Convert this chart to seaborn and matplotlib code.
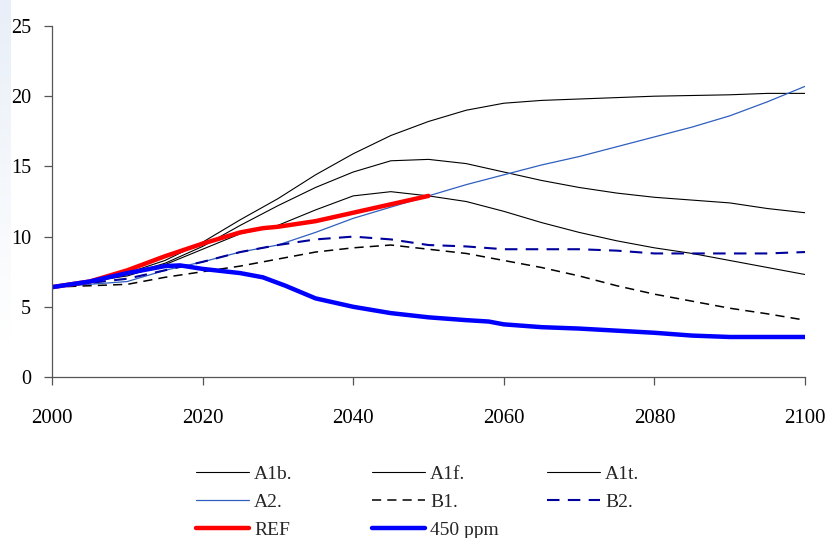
import numpy as np
import pandas as pd
import matplotlib
matplotlib.use("Agg")
import matplotlib.pyplot as plt
import seaborn as sns

years = [2000, 2005, 2010, 2015, 2020, 2025, 2030, 2035, 2040, 2045, 2050,
         2055, 2060, 2065, 2070, 2075, 2080, 2085, 2090, 2095, 2100]

a1b = [6.4, 6.8, 7.3, 8.1, 9.3, 10.8, 12.2, 13.5, 14.6, 15.4, 15.5,
       15.2, 14.6, 14.0, 13.5, 13.1, 12.8, 12.6, 12.4, 12.0, 11.7]
a1f = [6.4, 6.8, 7.4, 8.3, 9.6, 11.2, 12.7, 14.4, 15.9, 17.2, 18.2,
       19.0, 19.5, 19.7, 19.8, 19.9, 20.0, 20.05, 20.1, 20.2, 20.2]
a1t = [6.4, 6.8, 7.2, 8.0, 9.1, 10.2, 10.8, 11.9, 12.9, 13.2, 12.9,
       12.5, 11.8, 11.0, 10.3, 9.7, 9.2, 8.8, 8.3, 7.8, 7.3]
a2 = [6.4, 6.6, 6.8, 7.6, 8.2, 8.9, 9.4, 10.3, 11.3, 12.1, 12.9,
      13.7, 14.4, 15.1, 15.7, 16.4, 17.1, 17.8, 18.6, 19.6, 20.7]
b1 = [6.4, 6.5, 6.6, 7.1, 7.5, 7.9, 8.4, 8.9, 9.2, 9.4, 9.1,
      8.8, 8.3, 7.8, 7.2, 6.5, 5.9, 5.4, 4.9, 4.5, 4.05]
b2 = [6.4, 6.7, 7.0, 7.6, 8.2, 8.9, 9.4, 9.8, 10.0, 9.8, 9.4,
      9.3, 9.1, 9.1, 9.1, 9.0, 8.8, 8.8, 8.8, 8.8, 8.9]
ref_years = [2000, 2005, 2010, 2015, 2020, 2025, 2028, 2030, 2035, 2040, 2045, 2050]
ref = [6.4, 6.8, 7.6, 8.6, 9.5, 10.3, 10.6, 10.7, 11.1, 11.7, 12.3, 12.9]
ppm_years = [2000, 2005, 2010, 2015, 2017, 2020, 2025, 2028, 2031, 2035, 2040, 2045, 2050,
             2055, 2058, 2060, 2065, 2070, 2075, 2080, 2085, 2090, 2095, 2100]
ppm450 = [6.4, 6.8, 7.4, 7.9, 7.95, 7.7, 7.4, 7.1, 6.5, 5.6, 5.0, 4.55, 4.25,
          4.05, 3.95, 3.75, 3.55, 3.45, 3.3, 3.15, 2.95, 2.85, 2.85, 2.85]

x_ticks = [2000, 2020, 2040, 2060, 2080, 2100]
y_ticks = [0, 5, 10, 15, 20, 25]

sns.set_theme(style="white")
plt.rcParams['font.family'] = ['Liberation Serif', 'DejaVu Serif']

fig = plt.figure(figsize=(8.27, 5.38), dpi=100)

# faint blue strip at the left edge
gax = fig.add_axes([0, 0.36, 0.013, 0.64])
grad = np.linspace(0, 1, 100).reshape(-1, 1)
gax.imshow(grad, aspect="auto", cmap=matplotlib.colors.LinearSegmentedColormap.from_list(
    "g", ["#e8eff8", "#ffffff"]), origin="upper")
gax.axis("off")

ax = fig.add_axes([52 / 827, (538 - 377) / 538, 753 / 827, 351 / 538])

series = [
    ("A1b.", years, a1b, dict(color="black", lw=0.8, ls="-")),
    ("A1f.", years, a1f, dict(color="black", lw=0.8, ls="-")),
    ("A1t.", years, a1t, dict(color="black", lw=0.8, ls="-")),
    ("A2.", years, a2, dict(color="#2f5fbf", lw=0.9, ls="-")),
    ("B1.", years, b1, dict(color="black", lw=1.1, ls=(0, (6, 4)))),
    ("B2.", years, b2, dict(color="#00009c", lw=1.5, ls=(0, (6, 4)))),
    ("REF", ref_years, ref, dict(color="#ff0000", lw=3.2, ls="-")),
    ("450 ppm", ppm_years, ppm450, dict(color="#0000ff", lw=3.2, ls="-")),
]
for name, xs, ys, st in series:
    df = pd.DataFrame({"year": xs, "value": ys})
    sns.lineplot(data=df, x="year", y="value", ax=ax, label=name,
                 color=st["color"], linewidth=st["lw"], linestyle=st["ls"])

handles, labels = ax.get_legend_handles_labels()
if ax.get_legend() is not None:
    ax.get_legend().remove()

ax.set_xlim(2000, 2100)
ax.set_ylim(0, 25)
ax.set_xticks(x_ticks)
ax.set_yticks(y_ticks)
ax.set_xlabel("")
ax.set_ylabel("")
for s in ["top", "right"]:
    ax.spines[s].set_visible(False)
for s in ["left", "bottom"]:
    ax.spines[s].set_color("#555555")
    ax.spines[s].set_linewidth(0.9)
ax.tick_params(axis="both", direction="out", length=6, width=0.9, color="#555555",
               labelcolor="black", bottom=True, left=True)
ax.tick_params(axis="x", pad=17, labelsize=15)
ax.tick_params(axis="y", pad=9, labelsize=14.5)

# three legend columns, filled row-wise as in the reference
cols = [[0, 3, 6], [1, 4, 7], [2, 5]]
col_x = [196, 372, 547]
for idxs, cx in zip(cols, col_x):
    fig.legend([handles[i] for i in idxs], [labels[i] for i in idxs],
               loc="upper left", bbox_to_anchor=(cx / 827, 1 - 465 / 538),
               ncol=1, frameon=False, fontsize=14, handlelength=2.7,
               handletextpad=0.28, labelspacing=0.55, borderaxespad=0, borderpad=0)

fig.savefig("out.png", dpi=100)
